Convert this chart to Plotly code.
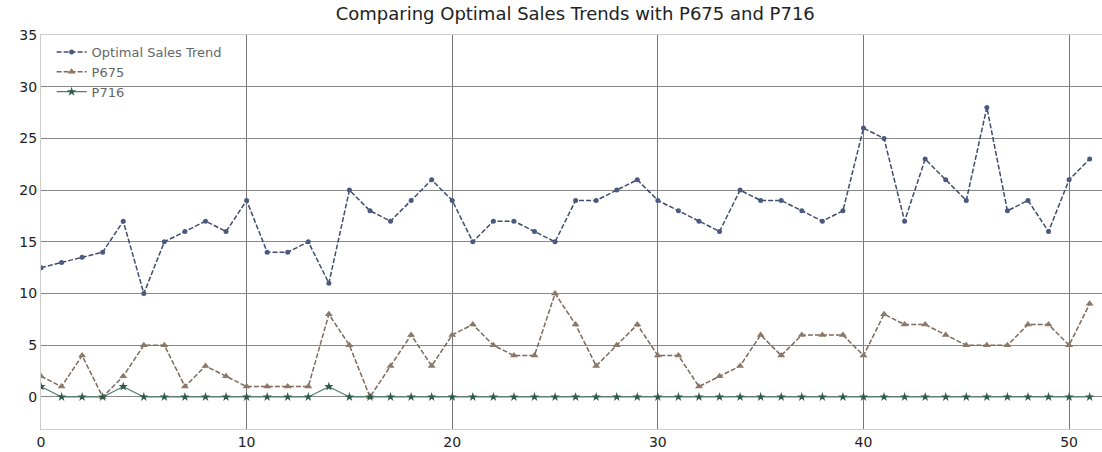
import plotly.graph_objects as go

x_vals = list(range(52))
optimal = [12.5, 13, 13.5, 14, 17, 10, 15, 16, 17, 16, 19, 14, 14, 15, 11, 20, 18, 17, 19, 21,
           19, 15, 17, 17, 16, 15, 19, 19, 20, 21, 19, 18, 17, 16, 20, 19, 19, 18, 17, 18,
           26, 25, 17, 23, 21, 19, 28, 18, 19, 16, 21, 23]
p675 = [2, 1, 4, 0, 2, 5, 5, 1, 3, 2, 1, 1, 1, 1, 8, 5, 0, 3, 6, 3,
        6, 7, 5, 4, 4, 10, 7, 3, 5, 7, 4, 4, 1, 2, 3, 6, 4, 6, 6, 6,
        4, 8, 7, 7, 6, 5, 5, 5, 7, 7, 5, 9]
p716 = [1, 0, 0, 0, 1, 0, 0, 0, 0, 0, 0, 0, 0, 0, 1, 0, 0, 0, 0, 0,
        0, 0, 0, 0, 0, 0, 0, 0, 0, 0, 0, 0, 0, 0, 0, 0, 0, 0, 0, 0,
        0, 0, 0, 0, 0, 0, 0, 0, 0, 0, 0, 0]
x_ticks = [0, 10, 20, 30, 40, 50]
y_ticks = [0, 5, 10, 15, 20, 25, 30, 35]

fig = go.Figure()
fig.add_trace(go.Scatter(x=x_vals, y=optimal, mode="lines+markers", name="Optimal Sales Trend",
                         line=dict(color="#3e4d6e", width=1.5, dash="5px,2px"),
                         marker=dict(symbol="circle", size=5, color="#4a5a7e")))
fig.add_trace(go.Scatter(x=x_vals, y=p675, mode="lines+markers", name="P675",
                         line=dict(color="#7d6a5c", width=1.5, dash="5px,2px"),
                         marker=dict(symbol="triangle-up", size=7, color="#8c7866")))
fig.add_trace(go.Scatter(x=x_vals, y=p716, mode="lines+markers", name="P716",
                         line=dict(color="#4f7e6c", width=1.2),
                         marker=dict(symbol="star", size=7, color="#2e5a48")))

fig.update_layout(
    width=1102, height=452,
    paper_bgcolor="white", plot_bgcolor="white",
    margin=dict(l=41, r=0, t=35, b=23),
    title=dict(text="Comparing Optimal Sales Trends with P675 and P716", x=0.522, xanchor="center",
               y=0.97, yanchor="middle", font=dict(family="DejaVu Sans", size=18, color="#222")),
    font=dict(family="DejaVu Sans", size=14, color="#222"),
    showlegend=True,
    legend=dict(x=0.01, y=0.995, xanchor="left", yanchor="top", bgcolor="rgba(255,255,255,0)",
                font=dict(size=13, color="#666"), itemwidth=30, tracegroupgap=0),
)
fig.update_xaxes(range=[0, 51.6], tickvals=x_ticks, showgrid=True, gridcolor="#777", gridwidth=1,
                 zeroline=False, showline=True, linecolor="#ccc", mirror=True, ticks="",
                 tickfont=dict(size=14), automargin=False)
fig.update_yaxes(range=[-3.1, 35], tickvals=y_ticks, showgrid=True, gridcolor="#888", gridwidth=1,
                 zeroline=False, showline=True, linecolor="#ccc", mirror=True, ticks="",
                 tickfont=dict(size=14), automargin=False)

fig.write_html("out.html", config={"displayModeBar": False})
with open("out.html", encoding="utf-8") as f:
    html = f.read()
html = html.replace("<body>", '<body style="margin:0;overflow:hidden">', 1)
with open("out.html", "w", encoding="utf-8") as f:
    f.write(html)
